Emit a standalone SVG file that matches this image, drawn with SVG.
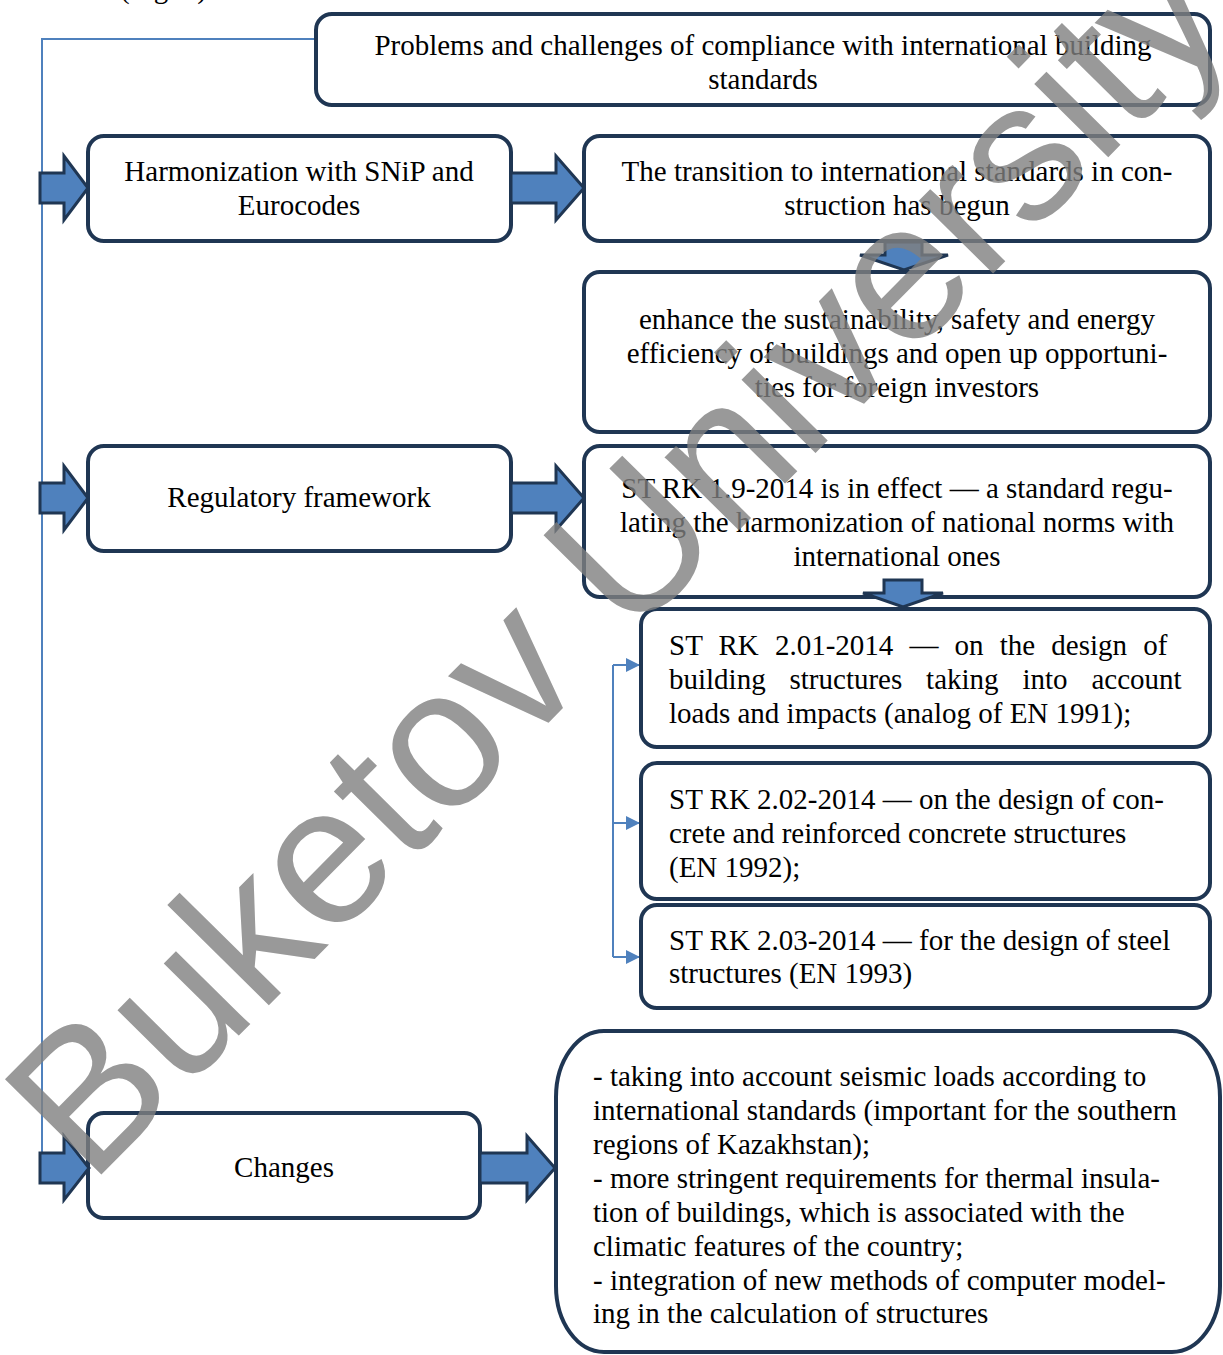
<svg xmlns="http://www.w3.org/2000/svg" width="1223" height="1355" viewBox="0 0 1223 1355">
<style>
.box{fill:#fff;stroke:#1f3653;stroke-width:4}
.t{font-family:"Liberation Serif","Times New Roman",serif;font-size:29px;fill:#000}
.c{text-anchor:middle}
.arr{fill:#4f81bd;stroke:#1f3653;stroke-width:3;stroke-linejoin:miter}
.ln{fill:none;stroke:#4f81bd;stroke-width:2}
.wm{font-family:"Liberation Sans",Arial,sans-serif;font-size:197px;fill:#808080;opacity:0.8}
</style>
<defs>
<marker id="tri" markerUnits="userSpaceOnUse" markerWidth="15" markerHeight="15" refX="14" refY="7" orient="auto" viewBox="0 0 15 15">
<path d="M0,0 L14,7 L0,14 Z" fill="#4f81bd"/>
</marker>
</defs>
<rect width="1223" height="1355" fill="#fff"/>
<text class="t" x="120" y="-2">(Fig. 2)</text>

<g id="connectors-lines">
<path class="ln" d="M316,39 H42 V1155"/>
<path class="ln" d="M613,665 V957"/>
<path class="ln" d="M613,665 H640" marker-end="url(#tri)"/>
<path class="ln" d="M613,823 H640" marker-end="url(#tri)"/>
<path class="ln" d="M613,957 H640" marker-end="url(#tri)"/>
</g>

<g id="n1"><rect class="box" x="316" y="14" width="894" height="91" rx="16"/>
<text class="t c" x="763" y="55">Problems and challenges of compliance with international building</text>
<text class="t c" x="763" y="89">standards</text></g>

<g id="n2"><rect class="box" x="88" y="136" width="423" height="105" rx="16"/>
<text class="t c" x="299" y="181">Harmonization with SNiP and</text>
<text class="t c" x="299" y="215">Eurocodes</text></g>

<g id="n3"><rect class="box" x="584" y="136" width="626" height="105" rx="16"/>
<text class="t c" x="897" y="181">The transition to international standards in con-</text>
<text class="t c" x="897" y="215">struction has begun</text></g>

<g id="n4"><rect class="box" x="584" y="272" width="626" height="160" rx="16"/>
<text class="t c" x="897" y="329">enhance the sustainability, safety and energy</text>
<text class="t c" x="897" y="363">efficiency of buildings and open up opportuni-</text>
<text class="t c" x="897" y="397">ties for foreign investors</text></g>

<g id="n5"><rect class="box" x="88" y="446" width="423" height="105" rx="16"/>
<text class="t c" x="299" y="507">Regulatory framework</text></g>

<g id="n6"><rect class="box" x="584" y="446" width="626" height="151" rx="16"/>
<text class="t c" x="897" y="498">ST RK 1.9-2014 is in effect — a standard regu-</text>
<text class="t c" x="897" y="532">lating the harmonization of national norms with</text>
<text class="t c" x="897" y="566">international ones</text></g>

<g id="n7"><rect class="box" x="641" y="609" width="569" height="138" rx="16"/>
<text class="t" x="669" y="655" style="word-spacing:8.9px">ST RK 2.01-2014 — on the design of</text>
<text class="t" x="669" y="689" style="word-spacing:16.6px">building structures taking into account</text>
<text class="t" x="669" y="723">loads and impacts (analog of EN 1991);</text></g>

<g id="n8"><rect class="box" x="641" y="763" width="569" height="136" rx="16"/>
<text class="t" x="669" y="809">ST RK 2.02-2014 — on the design of con-</text>
<text class="t" x="669" y="843">crete and reinforced concrete structures</text>
<text class="t" x="669" y="877">(EN 1992);</text></g>

<g id="n9"><rect class="box" x="641" y="905" width="569" height="103" rx="16"/>
<text class="t" x="669" y="950">ST RK 2.03-2014 — for the design of steel</text>
<text class="t" x="669" y="983">structures (EN 1993)</text></g>

<g id="n10"><rect class="box" x="88" y="1113" width="392" height="105" rx="16"/>
<text class="t c" x="284" y="1177">Changes</text></g>

<g id="n11"><rect class="box" x="556" y="1031" width="664" height="321" rx="48" ry="66"/>
<text class="t" x="593" y="1086">- taking into account seismic loads according to</text>
<text class="t" x="593" y="1120">international standards (important for the southern</text>
<text class="t" x="593" y="1154">regions of Kazakhstan);</text>
<text class="t" x="593" y="1188">- more stringent requirements for thermal insula-</text>
<text class="t" x="593" y="1222">tion of buildings, which is associated with the</text>
<text class="t" x="593" y="1256">climatic features of the country;</text>
<text class="t" x="593" y="1290">- integration of new methods of computer model-</text>
<text class="t" x="593" y="1323">ing in the calculation of structures</text></g>

<g id="connectors-arrows">
<polygon class="arr" points="40,173 64,173 64,156 88,188 64,220 64,203 40,203"/>
<polygon class="arr" points="511,173 556,173 556,156 584,188 556,220 556,203 511,203"/>
<polygon class="arr" points="40,483 64,483 64,466 88,498 64,530 64,513 40,513"/>
<polygon class="arr" points="511,483 556,483 556,466 584,498 556,530 556,513 511,513"/>
<polygon class="arr" points="40,1153 64,1153 64,1136 89,1168 64,1200 64,1183 40,1183"/>
<polygon class="arr" points="480,1153 527,1153 527,1136 555,1168 527,1200 527,1183 480,1183"/>
<polygon class="arr" points="885,242 922,242 922,255 948,255 904,270 860,255 885,255"/>
<polygon class="arr" points="884,580 922,580 922,593 943,593 903,607 863,593 884,593"/>
</g>

<text class="wm" transform="translate(90,1186) rotate(-45.3)" x="0" y="0">Buketov University</text>
</svg>
